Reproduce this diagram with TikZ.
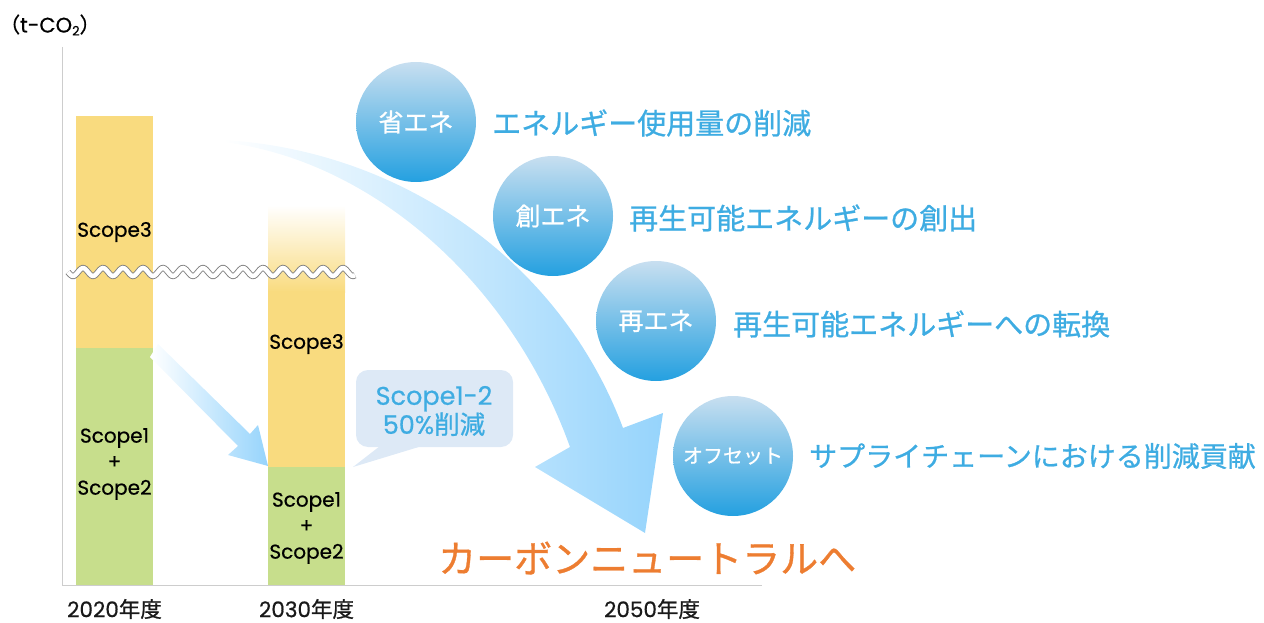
\documentclass[tikz,border=0pt]{standalone}
\usepackage{fontspec}
\setmainfont{Poppins}[FakeBold=0.6]
\newfontfamily\jp{Noto Sans CJK JP}[FakeBold=0.8]
\usetikzlibrary{shadings}
\definecolor{barY}{RGB}{249,219,127}
\definecolor{barG}{RGB}{199,222,140}
\definecolor{txtB}{RGB}{62,172,226}
\definecolor{cirT}{RGB}{200,223,240}
\definecolor{cirB}{RGB}{36,160,224}
\definecolor{arrB}{RGB}{150,212,252}
\definecolor{orng}{RGB}{237,125,49}
\definecolor{callF}{RGB}{221,233,246}
\definecolor{axisG}{RGB}{205,205,205}
\tikzset{
  barlbl/.style={font=\fontsize{20}{26}\selectfont, text=black, align=center, inner sep=0pt},
  yearlbl/.style={font=\fontsize{21.5}{21.5}\selectfont, text=black!90, inner sep=0pt},
  cirlbl/.style={font=\jp\fontsize{25}{25}\selectfont, text=white, inner sep=0pt},
  desc/.style={font=\jp\fontsize{29}{29}\selectfont, text=txtB, anchor=west, inner sep=0pt},
  bubble/.style={shade, top color=cirT, bottom color=cirB}
}
\begin{document}
\begin{tikzpicture}[x=1pt,y=-1pt]
\useasboundingbox (0,0) rectangle (1264,623);
% unit label
\node[anchor=west, inner sep=0pt, font=\fontsize{21}{21}\selectfont] (unit) at (-1,25) {{\jp （}t-CO{\fontsize{13}{13}\selectfont\raisebox{-3pt}{2}}{\jp ）}};
% axes
\coordinate (ytop) at (62,47);
\coordinate (orig) at (62,585);
\coordinate (xend) at (762,585);
\draw[axisG, line width=1pt] (ytop) -- (orig) -- (xend);
% bar 2020
\fill[barY] (76,116) rectangle (153,348);
\fill[barG] (76,348) rectangle (153,585);
% bar 2030
\shade[top color=white, bottom color=barY] (268,205) rectangle (345,292);
\fill[barY] (268,291) rectangle (345,467);
\fill[barG] (268,467) rectangle (345,585);
% wave break
\draw[black!50, line width=0.9pt, double=white, double distance=4.5pt]
  plot[domain=68:355, samples=200, smooth] (\x, {272+4*sin((\x-68)*18)});
% bar labels
\node[barlbl] (s3a) at (114.5,232) {Scope3};
\node[barlbl] (s12a) at (114.5,464) {Scope1\\+\\Scope2};
\node[barlbl] (s3b) at (306.5,344) {Scope3};
\node[barlbl] (s12b) at (306.5,528) {Scope1\\+\\Scope2};
% years
\node[yearlbl] (y20) at (114.5,609) {2020{\jp 年度}};
\node[yearlbl] (y30) at (306.5,609) {2030{\jp 年度}};
\node[yearlbl] (y50) at (652,609) {2050{\jp 年度}};
% small arrow
\shade[left color=white, right color=arrB]
  (158,344) -- (250,434) -- (258,425) -- (268,466) -- (228,455) -- (238,446) -- (150,357) -- cycle;
% big curved arrow
\shade[left color=white, right color=arrB]
  (223,140) .. controls (400,150) and (560,260) .. (623,428)
  -- (663,413) -- (645,533) -- (535,467) -- (570,447)
  .. controls (510,280) and (370,160) .. (223,142) -- cycle;
% callout
\fill[callF, rounded corners=12pt] (356,370) rectangle (513,447);
\fill[callF] (380,446) -- (353,467) -- (422,446) -- cycle;
\node[font=\fontsize{25.5}{28}\selectfont, text=txtB, align=center, inner sep=0pt] (call) at (434,411) {Scope1-2\\50\%{\jp 削減}};
% circles
\shade[bubble] (416,122) circle (60);
\node[cirlbl] (c1) at (416,122) {省エネ};
\shade[bubble] (553,216) circle (60);
\node[cirlbl] (c2) at (553,216) {創エネ};
\shade[bubble] (656,321) circle (60);
\node[cirlbl] (c3) at (656,321) {再エネ};
\shade[bubble] (733,456) circle (60);
\node[cirlbl, font=\jp\fontsize{20}{20}\selectfont] (c4) at (733,456) {オフセット};
% descriptions
\node[desc] (d1) at (492,123) {エネルギー使用量の削減};
\node[desc] (d2) at (629,218) {再生可能エネルギーの創出};
\node[desc] (d3) at (733,324) {再生可能エネルギーへの転換};
\node[desc, font=\jp\fontsize{28}{28}\selectfont] (d4) at (809,456) {サプライチェーンにおける削減貢献};
% goal
\node[anchor=west, inner sep=0pt, font=\jp\fontsize{38}{38}\selectfont, text=orng] (goal) at (438,558) {カーボンニュートラルへ};
\end{tikzpicture}
\end{document}
